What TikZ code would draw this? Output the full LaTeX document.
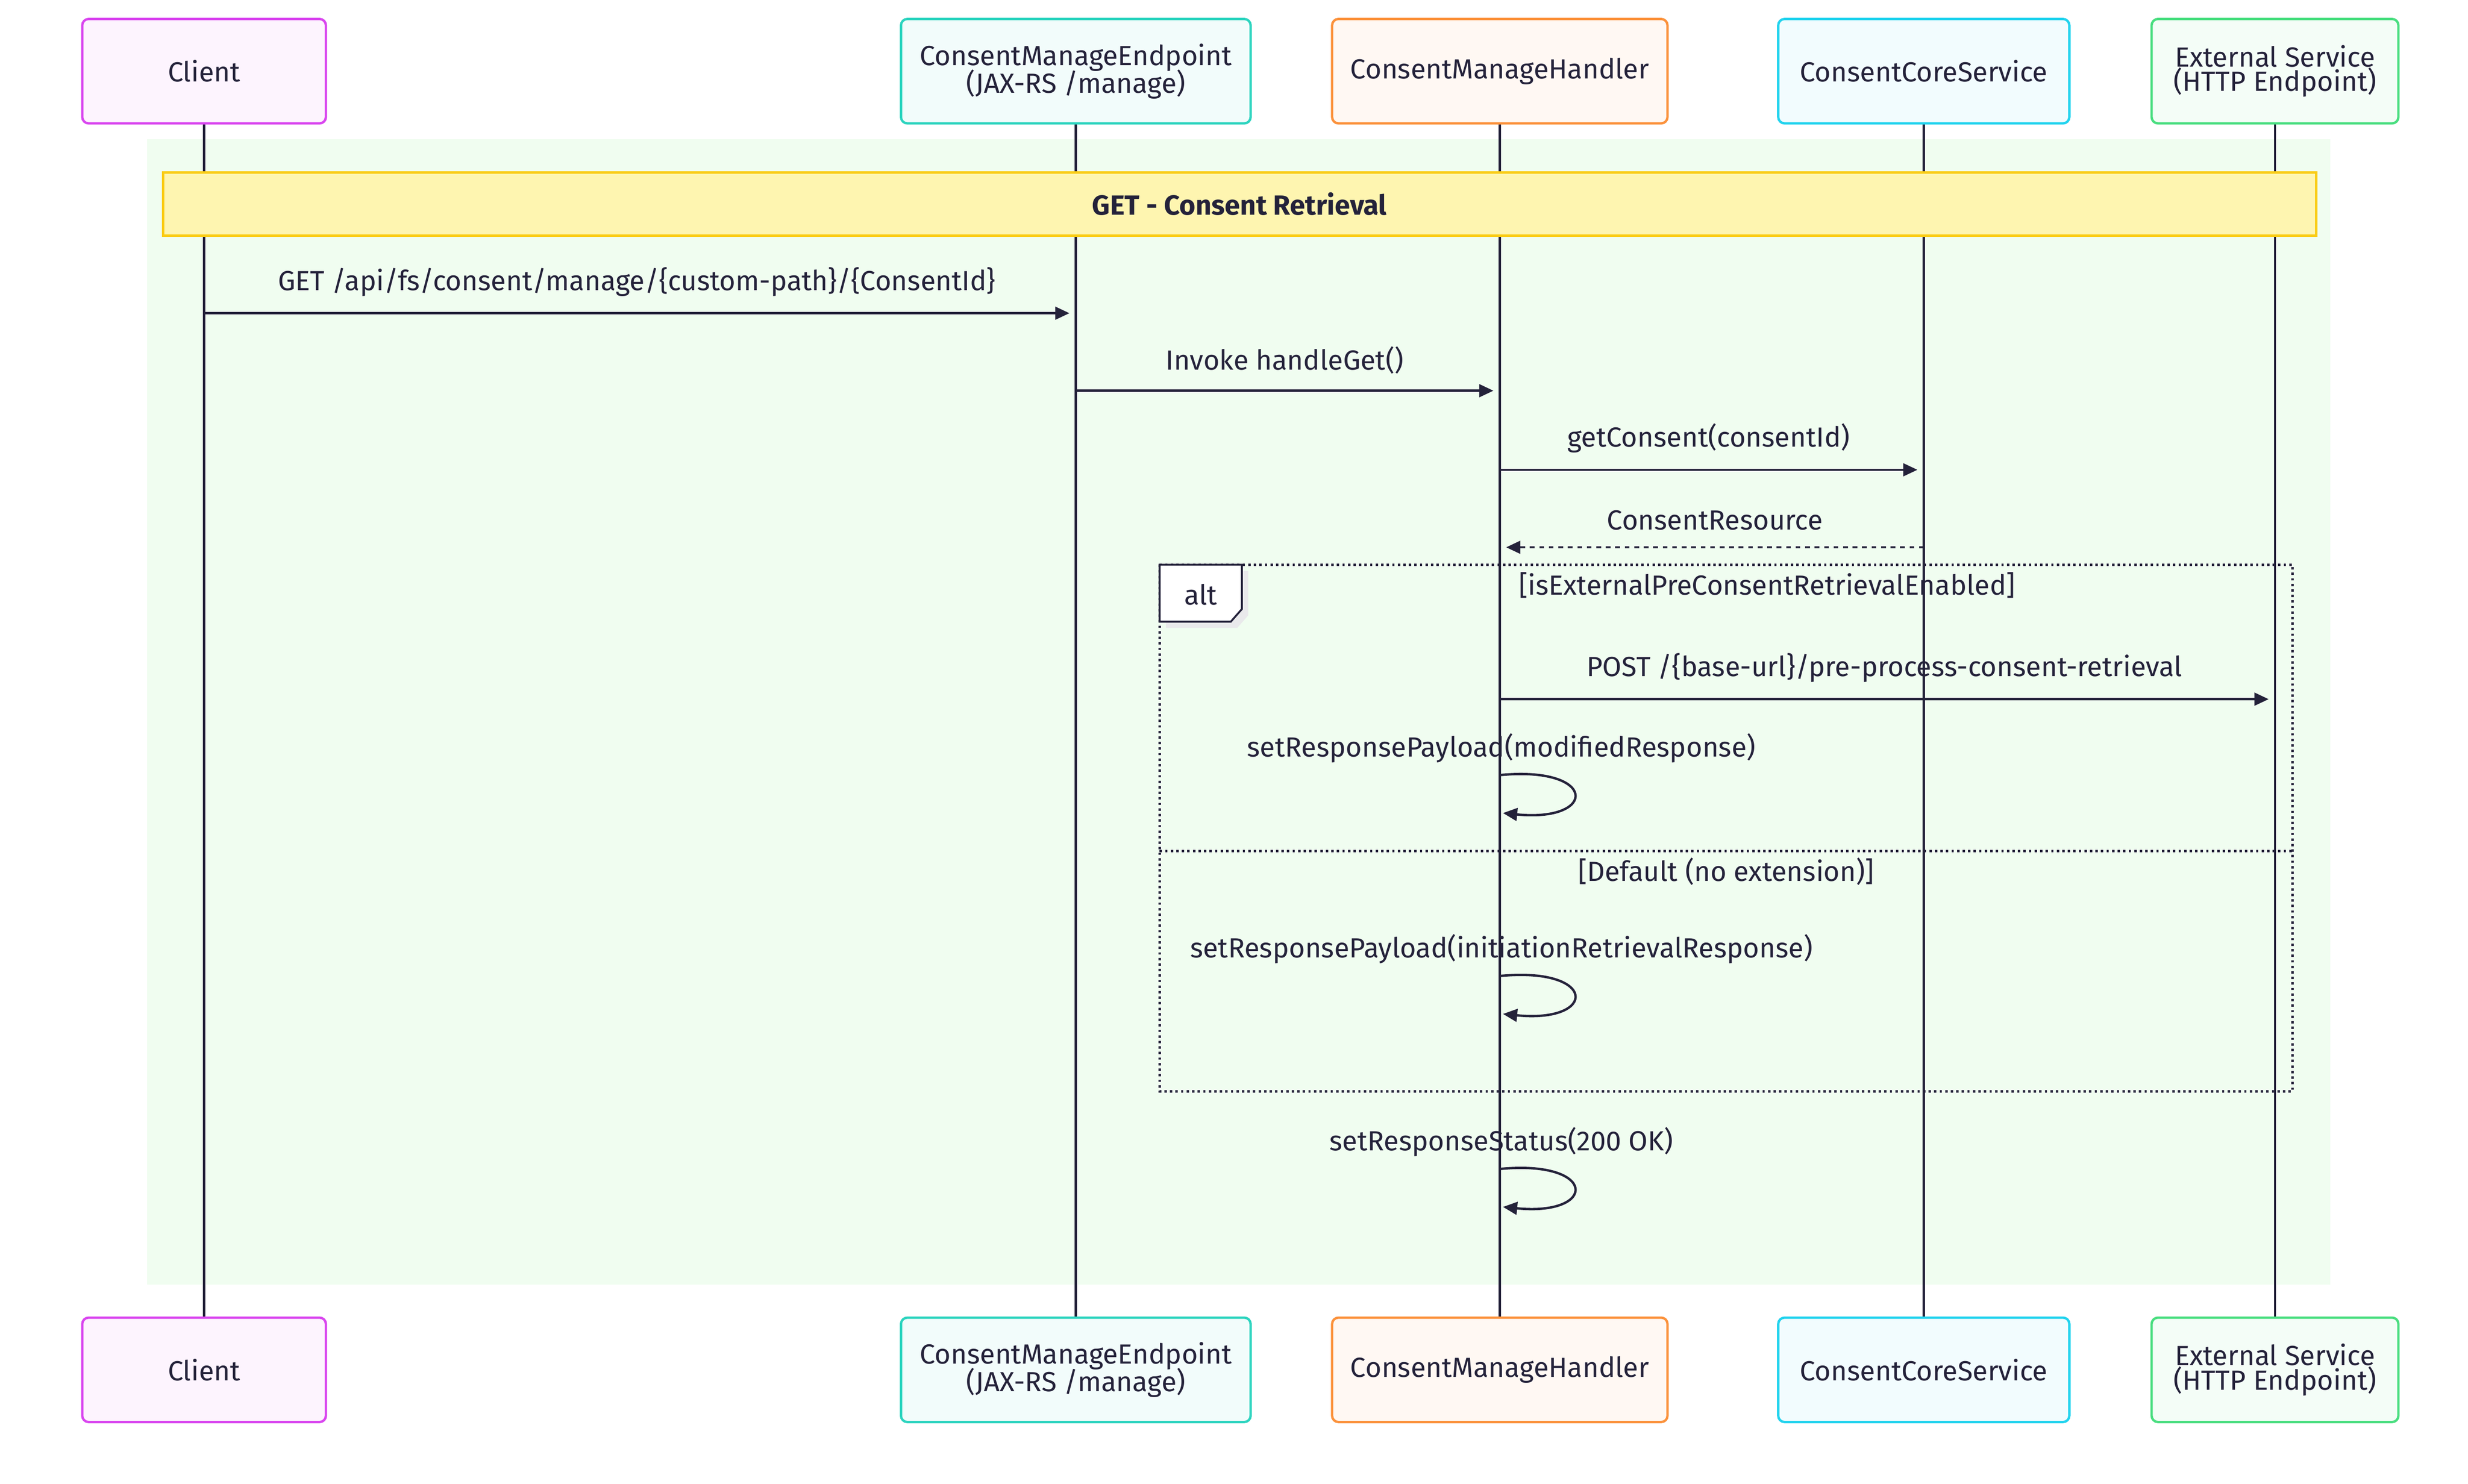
\documentclass[tikz,border=0pt]{standalone}
\usepackage{fontspec}
\setmainfont{Fira Sans}
\usetikzlibrary{arrows.meta,positioning}
\definecolor{ink}{HTML}{24223A}
\definecolor{bgreen}{HTML}{F0FDF0}
\definecolor{yfill}{HTML}{FEF5B0}
\definecolor{yline}{HTML}{FACC15}
\tikzset{
  actor/.style={draw=#1, fill=#1!6, line width=1.5pt, rounded corners=4pt, minimum height=66pt, align=center, font=\fontsize{17.5}{17.5}\selectfont, text=ink},
  life/.style={ink, line width=1.5pt},
  msg/.style={ink, line width=1.5pt, -{Triangle[length=9pt,width=8pt]}},
  lbl/.style={font=\fontsize{17.5}{17.5}\selectfont, text=ink, inner sep=0pt},
  frame/.style={ink, line width=1.5pt, dotted}
}
\begin{document}
\begin{tikzpicture}[x=1pt,y=-1pt]
\useasboundingbox (0,0) rectangle (1560,938);
% background
\fill[bgreen] (93,88) rectangle (1473,812);
% lifelines
\foreach \x in {129,680,948,1216,1438}{
  \draw[life] (\x,78) -- (\x,833);
}
% actors
\definecolor{cli}{HTML}{D946EF}
\definecolor{ept}{HTML}{2DD4BF}
\definecolor{hdl}{HTML}{FB923C}
\definecolor{cor}{HTML}{22D3EE}
\definecolor{ext}{HTML}{4ADE80}
\foreach \y/\s in {45/t,866/b}{
  \node[actor=cli, minimum width=154pt] (client\s) at (129,\y) {Client};
  \node[actor=ept, minimum width=221pt] (endpoint\s) at (680,\y) {ConsentManageEndpoint\\[-2pt](JAX-RS /manage)};
  \node[actor=hdl, minimum width=212pt] (handler\s) at (948,\y) {ConsentManageHandler};
  \node[actor=cor, minimum width=184pt] (core\s) at (1216,\y) {ConsentCoreService};
  \node[actor=ext, minimum width=156pt] (external\s) at (1438,\y) {External Service\\[-2pt](HTTP Endpoint)};
}
% section banner
\node[draw=yline, fill=yfill, line width=1.5pt, minimum width=1361pt, minimum height=40pt, font=\bfseries\fontsize{17.5}{17.5}\selectfont, text=ink] (banner) at (783.5,129) {GET - Consent Retrieval};
% points on lifelines
\coordinate (c1) at (129,198); \coordinate (e1) at (676,198);
\coordinate (e2) at (680,247); \coordinate (h2) at (944,247);
\coordinate (h3) at (948,297); \coordinate (s3) at (1212,297);
\coordinate (s4) at (1216,346); \coordinate (h4) at (952,346);
\coordinate (h5) at (948,442); \coordinate (x5) at (1434,442);
% messages
\draw[msg] (c1) -- (e1) node[lbl, midway, above=10pt] {GET /api/fs/consent/manage/\{custom-path\}/\{ConsentId\}};
\draw[msg] (e2) -- (h2) node[lbl, midway, above=10pt] {Invoke handleGet()};
\draw[msg] (h3) -- (s3) node[lbl, midway, above=10pt] {getConsent(consentId)};
\draw[msg, dashed, dash pattern=on 3pt off 3pt] (s4) -- (h4) node[lbl, midway, above=10pt] {ConsentResource};
% alt frame
\draw[frame] (733,357) rectangle (1449,690);
\draw[frame] (733,538) -- (1449,538);
\fill[ink!10] (737,361) -- (789,361) -- (789,389) -- (782,397) -- (737,397) -- cycle;
\draw[ink, line width=1.2pt, fill=white] (733,357) -- (785,357) -- (785,385) -- (778,393) -- (733,393) -- cycle;
\node[lbl] (alt) at (759,376) {alt};
\node[lbl] (cond1) at (1117,370) {[isExternalPreConsentRetrievalEnabled]};
\node[lbl] (cond2) at (1091,551) {[Default (no extension)]};
\draw[msg] (h5) -- (x5) node[lbl, midway, above=10pt] {POST /\{base-url\}/pre-process-consent-retrieval};
% self calls
\foreach \y/\t in {490/setResponsePayload(modifiedResponse),617/setResponsePayload(initiationRetrievalResponse),739/setResponseStatus(200 OK)}{
  \node[lbl] at (949,\y-17) {\t};
  \draw[msg] (948,\y) .. controls (1010,\y-6) and (1010,\y+30) .. (950,\y+24);
}
\end{tikzpicture}
\end{document}
